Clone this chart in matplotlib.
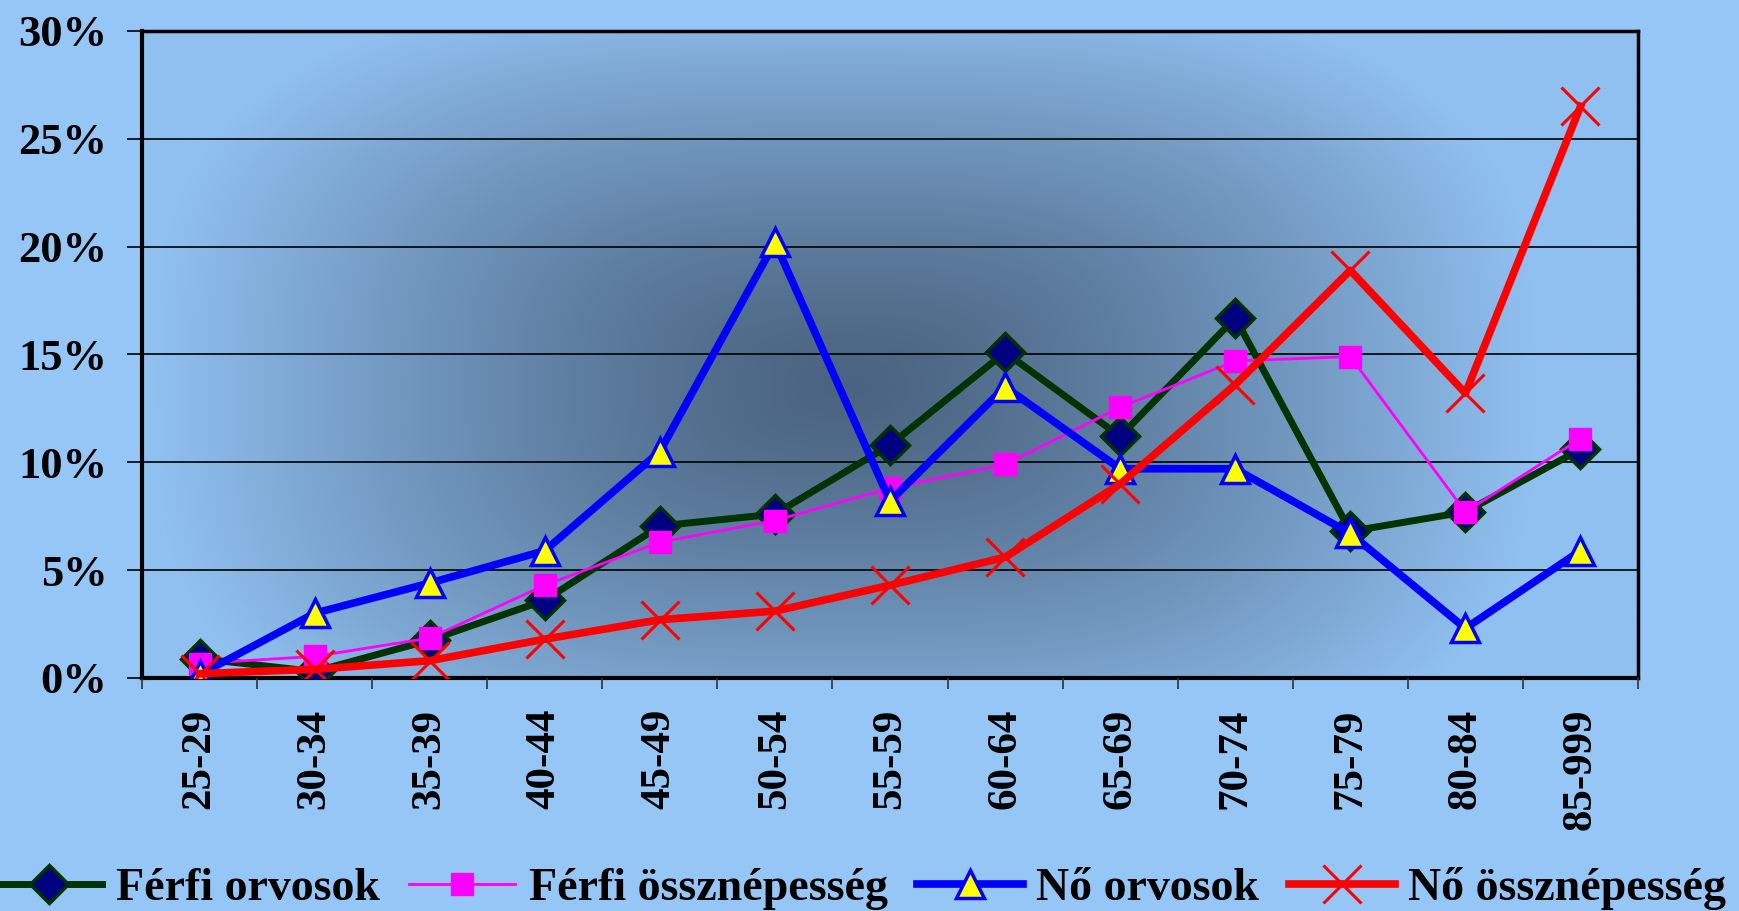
import numpy as np
import matplotlib
matplotlib.use('Agg')
import matplotlib.pyplot as plt
from matplotlib.ticker import FixedLocator, FuncFormatter

kategoriak = ['25-29', '30-34', '35-39', '40-44', '45-49', '50-54', '55-59',
              '60-64', '65-69', '70-74', '75-79', '80-84', '85-999']
ferfi_orvos = [0.9, 0.3, 1.75, 3.6, 7.05, 7.6, 10.8, 15.1, 11.2, 16.7, 6.8, 7.7, 10.6]
ferfi_nep = [0.67, 1.0, 1.85, 4.3, 6.3, 7.3, 8.8, 9.9, 12.55, 14.7, 14.9, 7.7, 11.1]
no_orvos = [0.15, 3.0, 4.4, 5.9, 10.5, 20.2, 8.2, 13.5, 9.7, 9.7, 6.7, 2.3, 5.9]
no_nep = [0.2, 0.4, 0.8, 1.8, 2.7, 3.1, 4.3, 5.6, 9.0, 13.6, 18.9, 13.2, 26.5]

plt.rcParams['font.family'] = ['Liberation Serif', 'DejaVu Serif']
plt.rcParams['font.weight'] = 'bold'

fig = plt.figure(figsize=(17.4, 9.11), dpi=100, facecolor='#96C6F6')
ax = fig.add_axes([0.0816, 0.2558, 0.8598, 0.7102])

# hatter: sotet kozep, vilagos szelek
gx, gy = np.meshgrid(np.linspace(0, 1, 400), np.linspace(0, 1, 300))
d = ((np.abs(gx - 0.47) / 0.46) ** 3 + (np.abs(gy - 0.45) / 0.62) ** 3) ** (1 / 3)
t = np.clip(d, 0, 1) ** 1.3
sotet = np.array([0x4A, 0x63, 0x80]) / 255
vilagos = np.array([0x90, 0xC0, 0xF0]) / 255
kep = sotet[None, None, :] * (1 - t[..., None]) + vilagos[None, None, :] * t[..., None]
ax.imshow(kep, extent=[0, 1, 0, 1], transform=ax.transAxes, origin='lower',
          aspect='auto', zorder=0, interpolation='bilinear')

x = np.arange(len(kategoriak))
ax.plot(x, ferfi_orvos, color='#003300', lw=5, marker='D', ms=19,
        mfc='#000080', mec='#003300', mew=2.5, label='Férfi orvosok', zorder=3)
ax.plot(x, ferfi_nep, color='#FF00FF', lw=2, marker='s', ms=16,
        mfc='#FF00FF', mec='#FF00FF', mew=1, label='Férfi össznépesség', zorder=4)
ax.plot(x, no_orvos, color='#0000FF', lw=5.5, marker='^', ms=20,
        mfc='#FFFF00', mec='#0000FF', mew=2.5, label='Nő orvosok', zorder=5)
ax.plot(x, no_nep, color='#FF0000', lw=5.5, marker='x', ms=28,
        mec='#FF0000', mew=2.2, label='Nő össznépesség', zorder=6)

ax.set_xlim(-0.5, len(kategoriak) - 0.5)
ax.set_ylim(0, 30)
ax.set_yticks(np.arange(0, 31, 5))
ax.yaxis.set_major_formatter(FuncFormatter(lambda v, p: f'{v:.0f}%'))
ax.grid(axis='y', color='black', lw=1.2, zorder=1)
ax.set_axisbelow(False)
for g in ax.get_ygridlines():
    g.set_zorder(1)

ax.set_xticks(x)
ax.set_xticklabels(kategoriak, rotation=90)
ax.xaxis.set_minor_locator(FixedLocator(np.arange(-0.5, len(kategoriak), 1)))
ax.tick_params(axis='x', which='major', length=0, pad=22, labelsize=31)
ax.tick_params(axis='x', which='minor', length=8, width=1.2, color='#333333')
ax.tick_params(axis='y', length=11, width=1.2, pad=14, labelsize=32)
for lab in ax.get_xticklabels() + ax.get_yticklabels():
    lab.set_fontweight('bold')

for s in ['left', 'bottom']:
    ax.spines[s].set_linewidth(3)
for s in ['top', 'right']:
    ax.spines[s].set_linewidth(2.5)

leg = fig.legend(loc='center left', bbox_to_anchor=(-0.002, 0.025), ncol=4, frameon=False,
                 fontsize=33, handlelength=2.3, handletextpad=0.3, columnspacing=0.65,
                 borderpad=0, borderaxespad=0)
for tx in leg.get_texts():
    tx.set_fontweight('bold')

fig.savefig('out.png', dpi=100, facecolor=fig.get_facecolor())
